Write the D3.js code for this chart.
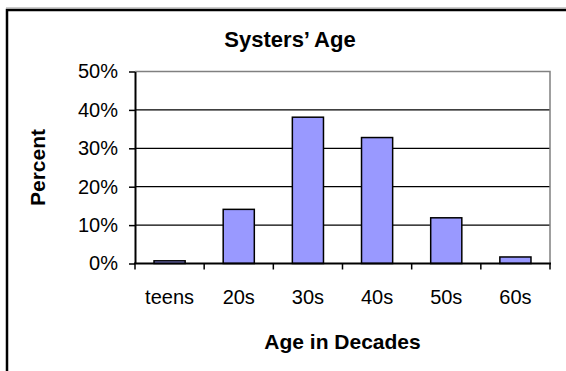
<!DOCTYPE html>
<html>
<head>
<meta charset="utf-8">
<script src="https://cdn.jsdelivr.net/npm/d3@7"></script>
<style>
  body { margin: 0; background: #fff; }
  svg { display: block; font-family: Arial, "Liberation Sans", sans-serif; }
</style>
</head>
<body>
<div class="chart"></div>
<script>
// data
const decades = ['teens', '20s', '30s', '40s', '50s', '60s'];
const percents = [0.7, 14.1, 38.1, 32.8, 11.9, 1.7];
const yTicks = [0, 10, 20, 30, 40, 50];

const width = 566;
const height = 371;

const plot_left = 135;
const plot_right = 550;
const plot_top = 71.5;
const plot_bottom = 263.5;

const svg = d3.select('.chart')
    .append('svg')
    .attr('width', width)
    .attr('height', height)

// outer chart frame (runs off the right and bottom of the picture)
svg.append('rect')
    .attr('x', 7)
    .attr('y', 10)
    .attr('width', 580)
    .attr('height', 400)
    .attr('fill', 'none')
    .attr('stroke', '#000')
    .attr('stroke-width', 2.5)

svg.append('line')
    .attr('x1', 6).attr('x2', width)
    .attr('y1', 8).attr('y2', 8)
    .attr('stroke', '#999')
    .attr('stroke-width', 1)

const x = d3.scaleBand()
    .domain(decades)
    .range([plot_left, plot_right])
    .padding(0)

const y = d3.scaleLinear()
    .domain([0, 50])
    .range([plot_bottom, plot_top])

// gridlines
svg.selectAll('.grid')
    .data(yTicks.filter(t => t > 0 && t < 50))
    .enter()
    .append('line')
    .attr('x1', plot_left)
    .attr('x2', plot_right)
    .attr('y1', d => y(d))
    .attr('y2', d => y(d))
    .attr('stroke', '#000')
    .attr('stroke-width', 1.3)

// plot area border, top and right (grey)
svg.append('path')
    .attr('d', `M${plot_left},${y(50)}H${plot_right}V${plot_bottom}`)
    .attr('fill', 'none')
    .attr('stroke', '#808080')
    .attr('stroke-width', 1.5)

// bars
const barW = x.bandwidth() * 0.45;
svg.selectAll('.bar')
    .data(percents)
    .enter()
    .append('rect')
    .attr('x', (d, i) => x(decades[i]) + (x.bandwidth() - barW) / 2)
    .attr('y', d => y(d))
    .attr('width', barW)
    .attr('height', d => y(0) - y(d))
    .attr('fill', '#9999ff')
    .attr('stroke', '#000')
    .attr('stroke-width', 1.5)

// y axis
const yAxis = svg.append('g')
    .attr('transform', `translate(${plot_left},0)`)
    .call(d3.axisLeft(y).tickValues(yTicks).tickFormat(d => d + '%').tickSize(6).tickPadding(11).tickSizeOuter(0))

yAxis.select('.domain').attr('stroke', '#000').attr('stroke-width', 2)
yAxis.selectAll('.tick line').attr('stroke', '#000').attr('stroke-width', 1.5)
yAxis.selectAll('.tick text')
    .attr('fill', '#000')
    .attr('font-size', 20)
    .attr('font-family', 'Arial, "Liberation Sans", sans-serif')

// x axis: ticks sit on the category boundaries
const xg = svg.append('g')
    .attr('transform', `translate(0,${plot_bottom})`)

xg.append('line')
    .attr('x1', plot_left - 1)
    .attr('x2', plot_right + 1)
    .attr('stroke', '#000')
    .attr('stroke-width', 2)

xg.selectAll('.xtick')
    .data(decades.concat(['end']))
    .enter()
    .append('line')
    .attr('x1', (d, i) => i < decades.length ? x(d) : plot_right)
    .attr('x2', (d, i) => i < decades.length ? x(d) : plot_right)
    .attr('y1', 0)
    .attr('y2', 6)
    .attr('stroke', '#000')
    .attr('stroke-width', 1.5)

xg.selectAll('.xlabel')
    .data(decades)
    .enter()
    .append('text')
    .attr('x', d => x(d) + x.bandwidth() / 2)
    .attr('y', 40)
    .attr('text-anchor', 'middle')
    .attr('font-size', 20)
    .text(d => d)

// titles
svg.append('text')
    .attr('x', 290)
    .attr('y', 47)
    .attr('text-anchor', 'middle')
    .attr('font-size', 22)
    .attr('font-weight', 'bold')
    .text('Systers\u2019 Age')

svg.append('text')
    .attr('x', (plot_left + plot_right) / 2)
    .attr('y', 349)
    .attr('text-anchor', 'middle')
    .attr('font-size', 21)
    .attr('font-weight', 'bold')
    .text('Age in Decades')

svg.append('text')
    .attr('transform', `translate(45,${(plot_top + plot_bottom) / 2}) rotate(-90)`)
    .attr('text-anchor', 'middle')
    .attr('font-size', 21)
    .attr('font-weight', 'bold')
    .text('Percent')
</script>
</body>
</html>
